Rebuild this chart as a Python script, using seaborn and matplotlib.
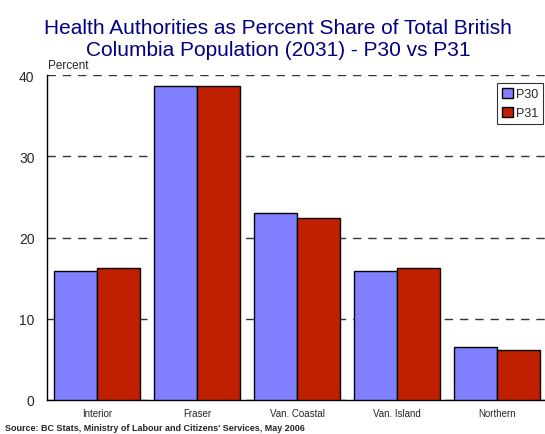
import matplotlib
matplotlib.use("Agg")
import matplotlib.pyplot as plt
import pandas as pd
import seaborn as sns

regions = ["Interior", "Fraser", "Van. Coastal", "Van. Island", "Northern"]
p30 = [15.9, 38.7, 23.0, 15.9, 6.5]
p31 = [16.3, 38.7, 22.4, 16.3, 6.2]
series = ["P30", "P31"]
colors = ["#8080FF", "#C02000"]

df = pd.DataFrame({
    "Region": regions * 2,
    "Percent": p30 + p31,
    "Series": ["P30"] * len(regions) + ["P31"] * len(regions),
})

sns.set_theme(style="white")
plt.rcParams["font.family"] = ["Liberation Sans", "DejaVu Sans"]

fig = plt.figure(figsize=(5.45, 4.35), dpi=100)
W, H = 545, 435
ax = fig.add_axes([47 / W, 1 - 401 / H, 500 / W, (401 - 76) / H])

sns.barplot(data=df, x="Region", y="Percent", hue="Series", hue_order=series,
            palette=colors, width=0.86, gap=0, edgecolor="black", linewidth=1,
            saturation=1, ax=ax, zorder=3)

ax.set_xlim(-0.5, 4.5)
ax.set_ylim(0, 40)
ax.set_yticks([0, 10, 20, 30, 40])
ax.yaxis.grid(True, linestyle=(0, (6, 5)), color="#333333", linewidth=1, zorder=0)
ax.set_axisbelow(True)
for side in ["top", "right"]:
    ax.spines[side].set_visible(False)
for side in ["left", "bottom"]:
    ax.spines[side].set_color("black")
    ax.spines[side].set_linewidth(1)
ax.tick_params(axis="y", left=False, length=0, labelsize=10, pad=9)
ax.tick_params(axis="x", bottom=False, length=0, labelsize=7, pad=6)
ax.set_xlabel("")
ax.set_ylabel("")

leg = ax.legend(loc="upper right", bbox_to_anchor=(496 / 500, 1 - 8 / 325),
                frameon=True, fancybox=False, fontsize=9, handlelength=0.9,
                handleheight=0.9, handletextpad=0.2, borderpad=0.4,
                labelspacing=0.5, borderaxespad=0)
leg.get_frame().set_edgecolor("black")
leg.get_frame().set_linewidth(0.8)

fig.text(278 / W, 1 - 28 / H, "Health Authorities as Percent Share of Total British",
         ha="center", va="center", fontsize=15, color="#000080")
fig.text(278 / W, 1 - 51 / H, "Columbia Population (2031) - P30 vs P31",
         ha="center", va="center", fontsize=15, color="#000080")
fig.text(48 / W, 1 - 66 / H, "Percent", ha="left", va="center", fontsize=8.5)
fig.text(5 / W, 1 - 429 / H, "Source: BC Stats, Ministry of Labour and Citizens' Services, May 2006",
         ha="left", va="center", fontsize=6.5, fontweight="bold")

fig.savefig("out.png", dpi=100)
